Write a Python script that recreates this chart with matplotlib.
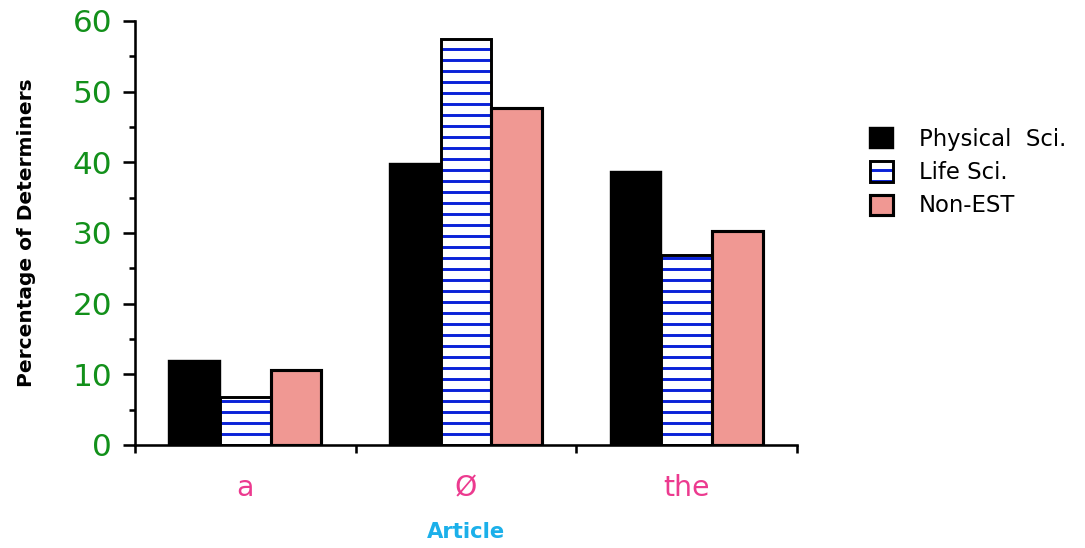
import numpy as np
import matplotlib
matplotlib.use("Agg")
import matplotlib.pyplot as plt
from matplotlib.ticker import FixedLocator, MultipleLocator, NullFormatter

articles = ["a", "Ø", "the"]
series = ["Physical  Sci.", "Life Sci.", "Non-EST"]
physical = [11.9, 39.7, 38.6]
life = [6.8, 57.4, 26.9]
non_est = [10.6, 47.7, 30.3]

plt.rcParams["font.family"] = ["DejaVu Sans"]
plt.rcParams["hatch.linewidth"] = 1.6

DPI = 132
fig = plt.figure(figsize=(1085 / DPI, 548 / DPI), dpi=DPI)
ax = fig.add_axes([135 / 1085, 1 - 445 / 548, (797 - 135) / 1085, (445 - 21) / 548])

x = np.arange(len(articles))
w = 0.23
b1 = ax.bar(x - w, physical, w, color="black", edgecolor="black", linewidth=1.3)
# stripes in blue, outline drawn separately in black
b2h = ax.bar(x, life, w, color="white", edgecolor="#0a22d8", hatch="--", linewidth=0)
b2o = ax.bar(x, life, w, fill=False, edgecolor="black", linewidth=1.6)
b3 = ax.bar(x + w, non_est, w, color="#f09893", edgecolor="black", linewidth=1.7)

ax.set_xlim(-0.5, 2.5)
ax.set_ylim(0, 60)
for s in ["top", "right"]:
    ax.spines[s].set_visible(False)
for s in ["left", "bottom"]:
    ax.spines[s].set_linewidth(1.4)

ax.yaxis.set_major_locator(MultipleLocator(10))
ax.yaxis.set_minor_locator(MultipleLocator(5))
ax.tick_params(axis="y", which="major", length=6.5, width=1.4, pad=6, labelsize=17, labelcolor="#12901a")
ax.tick_params(axis="y", which="minor", length=3.3, width=1.4)

ax.xaxis.set_major_locator(FixedLocator([-0.5, 0.5, 1.5, 2.5]))
ax.xaxis.set_major_formatter(NullFormatter())
ax.xaxis.set_minor_locator(FixedLocator(x))
ax.set_xticklabels(articles, minor=True)
ax.tick_params(axis="x", which="major", length=4.4, width=1.4)
ax.tick_params(axis="x", which="minor", length=0, pad=16, labelsize=15.5, labelcolor="#ec3a8f")

ax.set_xlabel("Article", color="#1bb0ea", fontsize=11.5, fontweight="bold", labelpad=11)
ax.set_ylabel("Percentage of Determiners", fontsize=11, fontweight="bold", labelpad=20)

fig.legend([b1[0], (b2h[0], b2o[0]), b3[0]], series,
           loc="upper left", bbox_to_anchor=(870 / 1085, 1 - 128 / 548), frameon=False,
           fontsize=12.4, handlelength=1.0, handleheight=1.0, handletextpad=1.15,
           labelspacing=0.45, borderpad=0, borderaxespad=0)

fig.savefig("out.png", dpi=DPI)
